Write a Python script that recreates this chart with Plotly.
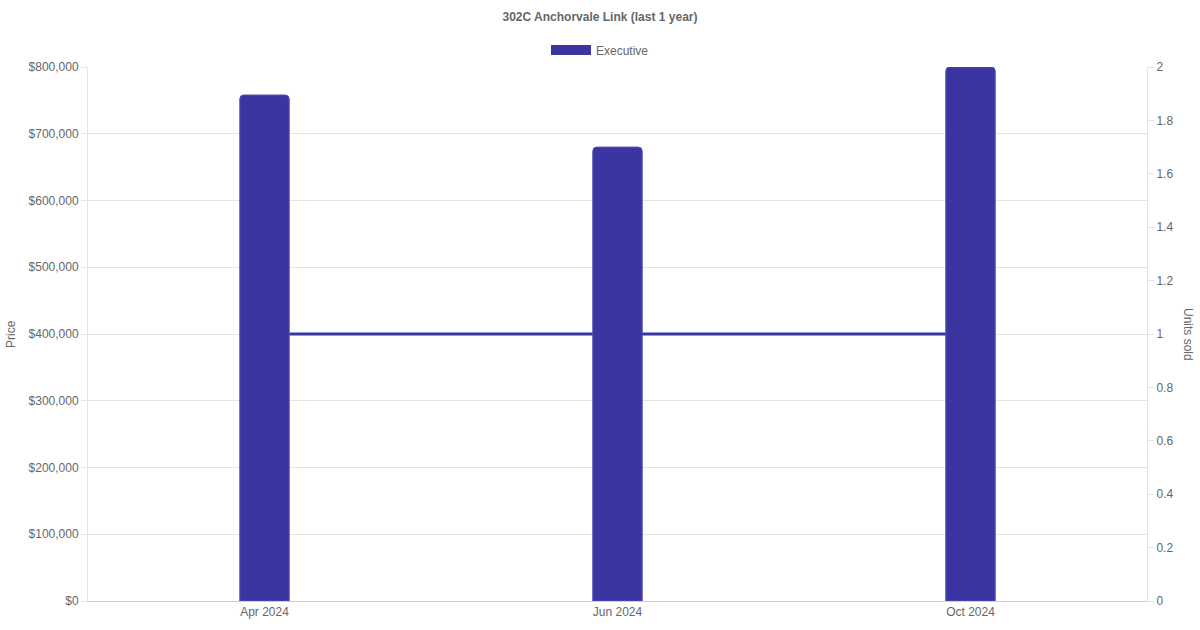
import plotly.graph_objects as go

months = ["Apr 2024", "Jun 2024", "Oct 2024"]
price = [758000, 680000, 800000]
units = [1, 1, 1]
price_ticks = [0, 100000, 200000, 300000, 400000, 500000, 600000, 700000, 800000]
price_labels = ["$0", "$100,000", "$200,000", "$300,000", "$400,000",
                "$500,000", "$600,000", "$700,000", "$800,000"]
unit_ticks = [0, 0.2, 0.4, 0.6, 0.8, 1, 1.2, 1.4, 1.6, 1.8, 2]
unit_labels = ["0", "0.2", "0.4", "0.6", "0.8", "1", "1.2", "1.4", "1.6", "1.8", "2"]

color = "#3a35a0"
grid = "#e4e4e4"
txt = "#666666"
font = "Liberation Sans, Arial, sans-serif"

fig = go.Figure()
fig.add_trace(go.Scatter(
    x=months, y=units, mode="lines", yaxis="y", showlegend=False,
    line=dict(color=color, width=3), hoverinfo="skip",
))
fig.add_trace(go.Bar(
    x=months, y=price, yaxis="y2", name="Executive", width=0.14, showlegend=False,
    marker=dict(color=color, line=dict(color="#5550b5", width=1)),
))
# legend swatch entry (wide rectangle like the reference)
fig.add_trace(go.Scatter(
    x=[None], y=[None], mode="lines", name="Executive", yaxis="y",
    line=dict(color=color, width=12),
))

fig.update_layout(
    width=1200, height=630,
    margin=dict(l=88, r=53, t=67, b=29, autoexpand=False),
    paper_bgcolor="white", plot_bgcolor="white",
    font=dict(family=font, size=12, color=txt),
    barcornerradius=4,
    title=dict(text="<b>302C Anchorvale Link (last 1 year)</b>", x=0.5, xanchor="center",
               xref="container", y=1 - 17 / 630, yref="container", yanchor="middle",
               font=dict(size=12, color=txt)),
    legend=dict(orientation="h", x=0.5, xanchor="center", xref="container",
                y=1 - 50 / 630, yref="container",
                yanchor="middle", itemwidth=40, font=dict(size=12, color=txt)),
    xaxis=dict(type="category", showgrid=False, showline=True, linecolor="#cccccc",
               ticks="", tickfont=dict(size=12, color=txt), zeroline=False, automargin=False),
    yaxis=dict(side="right", range=[0, 2], tickvals=unit_ticks, ticktext=unit_labels,
               showgrid=False, showline=True, linecolor=grid, ticks="outside",
               ticklen=6, tickcolor=grid, zeroline=False, automargin=False,
               tickfont=dict(size=12, color=txt)),
    yaxis2=dict(side="left", overlaying="y", range=[0, 800000], tickvals=price_ticks,
                ticktext=price_labels, showgrid=True, gridcolor=grid, showline=True,
                linecolor=grid, ticks="outside", ticklen=6, tickcolor=grid, zeroline=False,
                automargin=False, tickfont=dict(size=12, color=txt)),
    annotations=[
        dict(text="Units sold", xref="paper", yref="paper", x=1.0, y=0.5, xanchor="center",
             xshift=41, showarrow=False, textangle=90, font=dict(size=12, color=txt)),
        dict(text="Price", xref="paper", yref="paper", x=0.0, y=0.5, xanchor="center",
             xshift=-77, showarrow=False, textangle=-90, font=dict(size=12, color=txt)),
    ],
)

fig.write_html("out.html", config={"displayModeBar": False},
               post_script="document.body.style.margin='0';")
